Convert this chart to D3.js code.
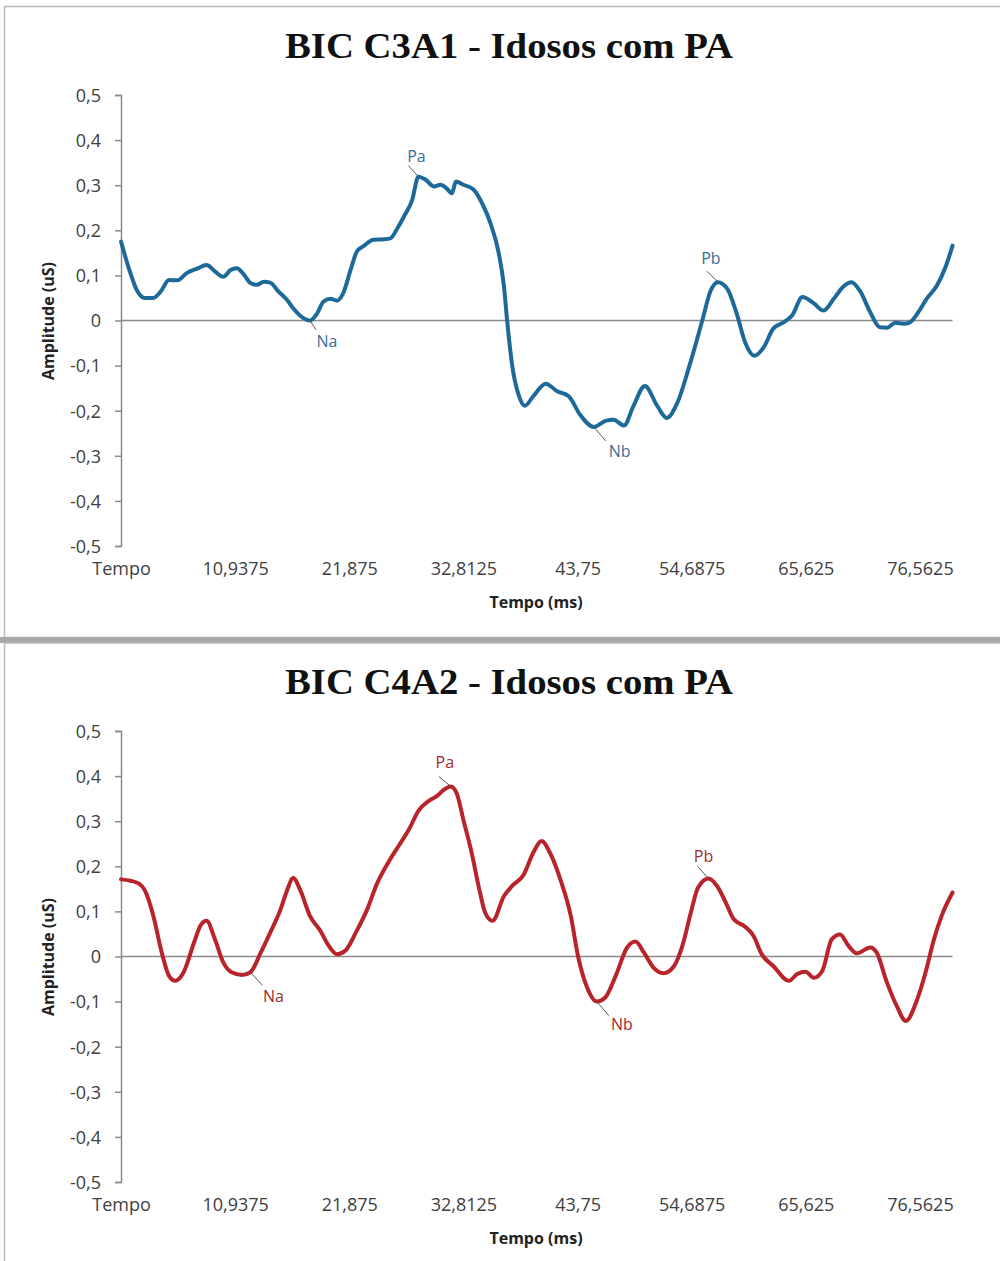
<!DOCTYPE html>
<html>
<head>
  <meta charset="utf-8">
  <title>BIC - Idosos com PA</title>
  <script src="https://d3js.org/d3.v7.min.js"></script>
  <style>
    body { margin: 0; background: #fff; }
    .tick text { font: 18px "Open Sans", sans-serif; fill: #404040; }
    .title { font: bold 36px "Liberation Serif", serif; fill: #111; }
    .axis-title { font: bold 16px "Open Sans", sans-serif; fill: #222; }
    .peak { font: 16px "Open Sans", sans-serif; }
  </style>
</head>
<body>
  <svg id="chart" width="1000" height="1261"></svg>
  <script>
    // tick labels (category axis, every 35 samples of 0.3125 ms)
    var xTickValues = [0, 10.9375, 21.875, 32.8125, 43.75, 54.6875, 65.625, 76.5625];
    var xTickLabels = ["Tempo", "10,9375", "21,875", "32,8125", "43,75", "54,6875", "65,625", "76,5625"];
    var yTicks = [0.5, 0.4, 0.3, 0.2, 0.1, 0, -0.1, -0.2, -0.3, -0.4, -0.5];

    // C3A1 - time (ms) / amplitude (uS)
    var timeC3 = [0, 0.9, 1.5, 2.3, 3.1, 3.8, 4.6, 5.4, 6.3, 7.3, 8.2, 9.0, 9.8, 10.5, 11.1, 11.8, 12.4, 13.0,
      13.7, 14.3, 15.1, 15.9, 16.5, 17.2, 18.1, 18.8, 19.4, 20.1, 20.7, 21.3, 22.0, 22.6, 23.3, 24.2, 25.2,
      25.8, 26.5, 27.1, 27.9, 28.5, 29.2, 30.0, 30.6, 31.2, 31.7, 32.1, 32.8, 33.8, 34.6, 35.4, 36.2, 36.7,
      37.0, 37.5, 38.1, 38.7, 39.5, 40.7, 41.8, 42.9, 44.0, 45.3, 46.5, 47.2, 48.2, 49.1, 50.2, 51.4, 52.3,
      53.3, 54.5, 55.7, 56.5, 57.2, 58.1, 59.0, 59.8, 60.7, 61.6, 62.5, 63.5, 64.3, 65.3, 66.4, 67.3, 68.3,
      69.2, 70.0, 70.8, 71.8, 72.7, 73.4, 74.2, 75.0, 75.6, 76.3, 77.2, 78.2, 79.0, 79.6875];
    var ampC3 = [0.175, 0.105, 0.068, 0.05, 0.05, 0.064, 0.09, 0.089, 0.105, 0.115, 0.123, 0.109, 0.097, 0.112,
      0.116, 0.101, 0.083, 0.079, 0.086, 0.084, 0.064, 0.046, 0.027, 0.010, 0.0, 0.016, 0.042, 0.048, 0.044,
      0.061, 0.112, 0.153, 0.166, 0.179, 0.180, 0.182, 0.205, 0.230, 0.267, 0.319, 0.312, 0.297, 0.301, 0.293,
      0.282, 0.308, 0.301, 0.29, 0.26, 0.216, 0.149, 0.075, 0.0, -0.102, -0.165, -0.189, -0.168, -0.14, -0.157,
      -0.168, -0.209, -0.236, -0.222, -0.22, -0.233, -0.19, -0.145, -0.19, -0.216, -0.183, -0.098, 0.0, 0.066,
      0.085, 0.07, 0.015, -0.048, -0.078, -0.059, -0.018, -0.004, 0.011, 0.052, 0.038, 0.022, 0.048, 0.075,
      0.085, 0.066, 0.018, -0.015, -0.016, -0.005, -0.007, -0.004, 0.015, 0.048, 0.078, 0.118, 0.166];

    // C4A2
    var timeC4 = [0, 0.9, 1.7, 2.3, 3.1, 3.9, 4.6, 5.2, 6.0, 7.0, 7.6, 8.2, 9.0, 9.8, 10.6, 11.6, 12.4, 13.4,
      14.3, 15.3, 15.9, 16.5, 17.2, 18.1, 19.1, 19.9, 20.7, 21.5, 22.5, 23.6, 24.5, 25.7, 26.6, 27.6, 28.5,
      29.5, 30.3, 30.9, 31.6, 32.2, 32.8, 33.6, 34.4, 34.9, 35.6, 36.7, 37.5, 38.6, 39.5, 40.3, 41.1, 42.1,
      43.1, 43.8, 44.6, 45.6, 46.4, 47.4, 48.5, 49.3, 50.1, 51.0, 52.0, 53.0, 53.8, 54.6, 55.3, 56.3, 57.1,
      58.1, 58.7, 59.8, 60.6, 61.4, 62.5, 64.0, 64.8, 65.6, 66.4, 67.2, 68.1, 68.9, 69.7, 70.5, 71.8, 72.4,
      73.4, 74.4, 75.2, 76.3, 77.1, 77.9, 78.7, 79.6875];
    var ampC4 = [0.171, 0.168, 0.162, 0.146, 0.09, 0.009, -0.043, -0.054, -0.035, 0.031, 0.068, 0.079, 0.038,
      -0.013, -0.035, -0.041, -0.035, 0.009, 0.053, 0.105, 0.146, 0.174, 0.146, 0.09, 0.057, 0.024, 0.005,
      0.013, 0.053, 0.105, 0.16, 0.212, 0.245, 0.282, 0.323, 0.345, 0.356, 0.369, 0.377, 0.36, 0.304, 0.23,
      0.142, 0.097, 0.079, 0.134, 0.157, 0.182, 0.23, 0.256, 0.23, 0.171, 0.09, 0.0, -0.065, -0.1, -0.091,
      -0.043, 0.02, 0.033, 0.009, -0.024, -0.037, -0.021, 0.024, 0.097, 0.153, 0.173, 0.157, 0.112, 0.083,
      0.066, 0.046, 0.005, -0.021, -0.054, -0.039, -0.034, -0.047, -0.032, 0.038, 0.049, 0.024, 0.007, 0.02,
      0.009, -0.058, -0.113, -0.143, -0.095, -0.035, 0.038, 0.094, 0.142];

    // peak labels and the time of the marked sample
    var peakNames = ["Pa", "Na", "Pb", "Nb"];
    var peakTimesC3 = [28.5, 18.1, 57.2, 45.3];
    var peakTimesC4 = [31.6, 12.4, 56.3, 45.6];

    var svg = d3.select("#chart");

    // panel frames
    svg.append("rect").attr("x", 4.5).attr("y", 6.5).attr("width", 1010).attr("height", 631)
      .attr("fill", "none").attr("stroke", "#b8b8b8").attr("stroke-width", 1.5);
    svg.append("rect").attr("x", 0).attr("y", 637).attr("width", 1000).attr("height", 6).attr("fill", "#a8a8a8");
    svg.append("rect").attr("x", 4.5).attr("y", 643).attr("width", 1010).attr("height", 630)
      .attr("fill", "none").attr("stroke", "#b8b8b8").attr("stroke-width", 1.5);

    function drawChart(top, title, times, amps, peakTimes, color, labelColor, offsets) {
      var g = svg.append("g").attr("transform", "translate(0," + top + ")");

      var x = d3.scaleLinear().domain([0, 79.6875]).range([121, 952.6]);
      var y = d3.scaleLinear().domain([-0.5, 0.5]).range([546, 95]);

      g.append("text").attr("class", "title")
        .attr("x", 509).attr("y", 58).attr("text-anchor", "middle")
        .attr("textLength", 448).attr("lengthAdjust", "spacingAndGlyphs")
        .text(title);

      // y axis
      var yAxis = d3.axisLeft(y).tickValues(yTicks).tickSize(6).tickPadding(14)
        .tickFormat(function (d) { return d === 0 ? "0" : d.toFixed(1).replace(".", ","); });
      var ya = g.append("g").attr("transform", "translate(121,0)").call(yAxis);
      ya.select(".domain").attr("stroke", "#8a8a8a").attr("stroke-width", 1.5);
      ya.selectAll(".tick line").attr("stroke", "#8a8a8a").attr("stroke-width", 1.5);
      ya.selectAll(".tick text").attr("dy", "0.35em");

      // x axis on the zero line, labels at the bottom
      g.append("line").attr("x1", x(0)).attr("x2", x(79.6875))
        .attr("y1", y(0)).attr("y2", y(0)).attr("stroke", "#8a8a8a").attr("stroke-width", 1.5);
      var xAxis = d3.axisBottom(x).tickValues(xTickValues).tickSize(0).tickPadding(0)
        .tickFormat(function (d, i) { return xTickLabels[i]; });
      var xa = g.append("g").attr("transform", "translate(0," + 562 + ")").call(xAxis);
      xa.select(".domain").remove();

      g.append("text").attr("class", "axis-title")
        .attr("x", 536).attr("y", 608).attr("text-anchor", "middle").text("Tempo (ms)");
      g.append("text").attr("class", "axis-title")
        .attr("transform", "translate(54,321) rotate(-90)").attr("text-anchor", "middle")
        .text("Amplitude (uS)");

      var pts = times.map(function (t, i) { return [t, amps[i]]; });
      var line = d3.line().x(function (d) { return x(d[0]); }).y(function (d) { return y(d[1]); })
        .curve(d3.curveMonotoneX);
      g.append("path").datum(pts).attr("d", line)
        .attr("fill", "none").attr("stroke", color).attr("stroke-width", 4)
        .attr("stroke-linejoin", "round").attr("stroke-linecap", "round");

      peakNames.forEach(function (name, i) {
        var k = times.indexOf(peakTimes[i]);
        var px = x(times[k]), py = y(amps[k]);
        var o = offsets[i];
        g.append("line").attr("x1", px).attr("y1", py)
          .attr("x2", px + o[2]).attr("y2", py + o[3])
          .attr("stroke", "#555").attr("stroke-width", 1);
        g.append("text").attr("class", "peak").attr("fill", labelColor)
          .attr("x", px + o[0]).attr("y", py + o[1]).attr("text-anchor", "middle")
          .attr("dy", "0.35em").text(name);
      });
    }

    drawChart(0, "BIC C3A1 - Idosos com PA", timeC3, ampC3, peakTimesC3, "#1d6a9a", "#3a6f94",
      [[-2, -20, -10, -11], [17, 21, 6, 9], [-7, -24, -11, -11], [26, 24, 12, 14]]);
    drawChart(636, "BIC C4A2 - Idosos com PA", timeC4, ampC4, peakTimesC4, "#b8242a", "#a3282e",
      [[-6, -24, -12, -10], [23, 24, 12, 13], [-5, -22, -11, -12], [25, 23, 12, 14]]);
  </script>
</body>
</html>
